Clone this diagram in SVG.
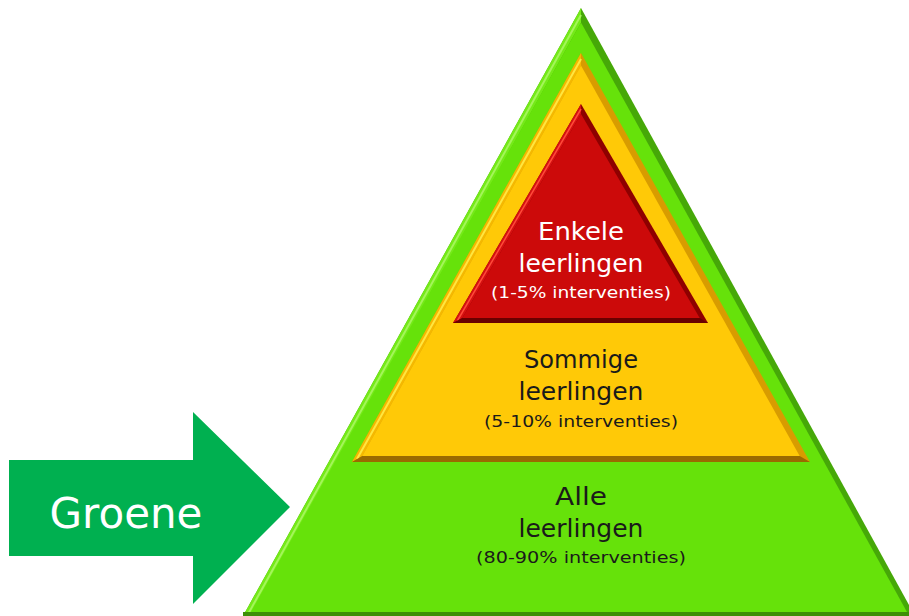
<svg xmlns="http://www.w3.org/2000/svg" width="909" height="616" viewBox="0 0 909 616">
<style>
.lbl{font-family:"DejaVu Sans","Liberation Sans",sans-serif;text-anchor:middle;}
.big{font-size:25px;}
.small{font-size:16.5px;}
.dark{fill:#1a1a1a;}
.light{fill:#ffffff;}
</style>
<rect width="909" height="616" fill="#ffffff"/>
<g id="node-green">
<polygon points="581,8 243,616 915,616" fill="#46a808"/>
<polygon points="581,8 243,616 251,616 581,22.5" fill="#74ea18"/>
<line x1="581" y1="15" x2="247" y2="616" stroke="#a4f55a" stroke-width="2"/>
<polygon points="581,22.5 251,612 907,612" fill="#66e20a"/>
<rect x="243" y="612" width="672" height="4" fill="#3e8f07"/>
<text class="lbl big dark" x="581" y="505" textLength="52" lengthAdjust="spacingAndGlyphs">Alle</text>
<text class="lbl big dark" x="581" y="537" textLength="125" lengthAdjust="spacingAndGlyphs">leerlingen</text>
<text class="lbl small dark" x="581" y="563" textLength="210" lengthAdjust="spacingAndGlyphs">(80-90% interventies)</text>
</g>
<g id="node-yellow">
<polygon points="581,53 352,462 810,462" fill="#d89c00"/>
<polygon points="581,53 352,462 362.3,456 581,65.4" fill="#f5b800"/>
<line x1="581" y1="59" x2="357" y2="459" stroke="#ffe640" stroke-width="2"/>
<polygon points="352,462 810,462 799.7,456 362.3,456" fill="#9a6a00"/>
<polygon points="581,65.4 362.3,456 799.7,456" fill="#ffc907"/>
<text class="lbl big dark" x="581" y="368" textLength="114" lengthAdjust="spacingAndGlyphs">Sommige</text>
<text class="lbl big dark" x="581" y="400" textLength="125" lengthAdjust="spacingAndGlyphs">leerlingen</text>
<text class="lbl small dark" x="581" y="427" textLength="194" lengthAdjust="spacingAndGlyphs">(5-10% interventies)</text>
</g>
<g id="node-red">
<polygon points="581,104 453,323 708,323" fill="#8e0000"/>
<polygon points="581,104 453,323 462.3,318 581,114" fill="#d41010"/>
<line x1="581" y1="109" x2="457.5" y2="320.5" stroke="#ff4a3a" stroke-width="1.5"/>
<polygon points="453,323 708,323 699.7,318 462.3,318" fill="#6a0000"/>
<polygon points="581,114 462.3,318 699.7,318" fill="#cc0a0a"/>
<text class="lbl big light" x="581" y="240" textLength="86" lengthAdjust="spacingAndGlyphs">Enkele</text>
<text class="lbl big light" x="581" y="272" textLength="125" lengthAdjust="spacingAndGlyphs">leerlingen</text>
<text class="lbl small light" x="581" y="298" textLength="180" lengthAdjust="spacingAndGlyphs">(1-5% interventies)</text>
</g>
<g id="node-arrow">
<polygon points="9,460 193,460 193,412 290,507 193,604 193,556 9,556" fill="#00b050"/>
<text x="126" y="528" font-family="DejaVu Sans, sans-serif" font-size="42" fill="#ffffff" text-anchor="middle">Groene</text>
</g>
<g id="connectors"></g>
</svg>
